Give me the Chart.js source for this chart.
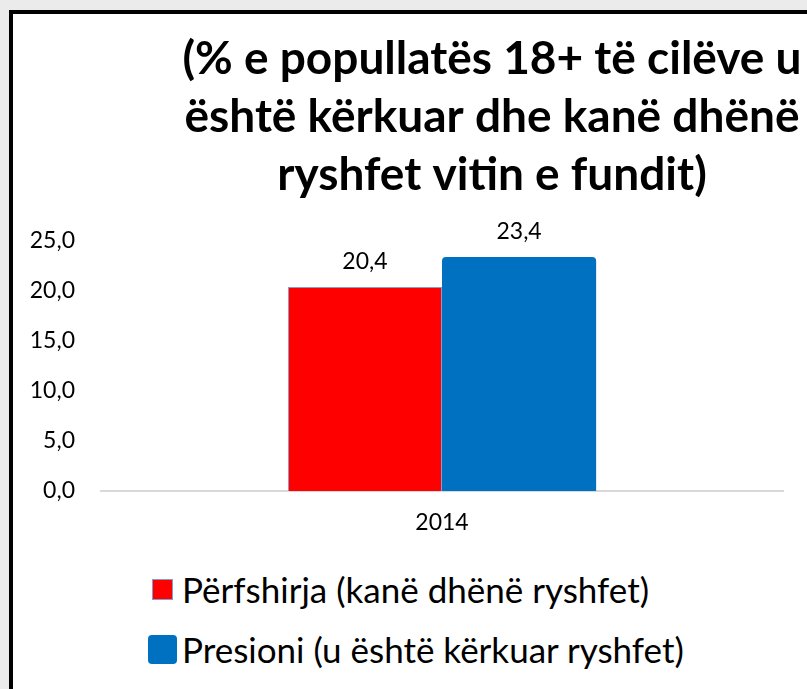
<!DOCTYPE html>
<html>
<head>
<meta charset="utf-8">
<script src="https://cdn.jsdelivr.net/npm/chart.js@4.4.0/dist/chart.umd.min.js"></script>
<style>
html, body { margin: 0; padding: 0; width: 807px; height: 689px; overflow: hidden; background: #ebebeb; }
#frame { position: absolute; left: 9px; top: 10px; width: 798px; height: 679px; background: #fff; overflow: hidden;
         border-left: 4px solid #000; border-top: 4px solid #000; }
#wrap { position: absolute; left: 0; top: 0; width: 958px; height: 540px; }
#legend { position: absolute; left: 134px; top: 545px; font-family: Lato, sans-serif; font-size: 35px; color: #000; white-space: nowrap; }
.item { display: flex; align-items: center; height: 60px; }
.key { width: 30px; display: flex; justify-content: center; margin-right: 5px; }
.key span { display: block; box-sizing: border-box; }
</style>
</head>
<body>
<div id="frame">
  <div id="wrap"><canvas id="chart"></canvas></div>
  <div id="legend"></div>
</div>
<script>
const titleLines = ['(% e popullatës 18+ të cilëve u', 'është kërkuar dhe kanë dhënë', 'ryshfet vitin e fundit)'];
const years = ['2014'];
const perfshirja = [20.4];
const presioni = [23.4];
const seriesNames = ['Përfshirja (kanë dhënë ryshfet)', 'Presioni (u është kërkuar ryshfet)'];
const yTicks = [0, 5, 10, 15, 20, 25];

function fmt(v) {
  return v.toFixed(1).replace('.', ',');
}

// value labels above each bar
const barLabels = {
  id: 'barLabels',
  afterDatasetsDraw(chart) {
    const ctx = chart.ctx;
    ctx.save();
    ctx.font = '23px Lato';
    ctx.fillStyle = '#000';
    ctx.textAlign = 'center';
    ctx.textBaseline = 'alphabetic';
    chart.data.datasets.forEach((ds, i) => {
      chart.getDatasetMeta(i).data.forEach((bar, j) => {
        ctx.fillText(fmt(ds.data[j]), bar.x, bar.y - 18);
      });
    });
    ctx.restore();
  }
};

const datasets = [
  { label: seriesNames[0], data: perfshirja, backgroundColor: '#ff0000', borderColor: '#7f9fd4', borderWidth: 1,
    keySize: 21, keyRadius: 0 },
  { label: seriesNames[1], data: presioni, backgroundColor: '#0070c0', borderColor: '#0070c0', borderWidth: 0,
    borderRadius: { topLeft: 4, topRight: 4 }, borderSkipped: 'bottom', keySize: 29, keyRadius: 4 }
];

const chart = new Chart(document.getElementById('chart'), {
  type: 'bar',
  data: { labels: years, datasets: datasets },
  options: {
    responsive: true,
    maintainAspectRatio: false,
    animation: false,
    layout: { padding: { left: 0, right: 0, top: 0, bottom: 13 } },
    datasets: { bar: { categoryPercentage: 0.452, barPercentage: 1 } },
    plugins: {
      legend: { display: false },
      tooltip: { enabled: false },
      title: {
        display: true,
        text: titleLines,
        color: '#000',
        font: { family: 'Lato', size: 46, weight: 'bold', lineHeight: '58px' },
        padding: { top: 16, bottom: 37 }
      }
    },
    scales: {
      x: {
        grid: { display: false, drawTicks: false },
        border: { display: true, color: '#d9d9d9', width: 2 },
        ticks: { color: '#000', font: { family: 'Lato', size: 23 }, padding: 18 },
        afterFit: s => { s.height = 50; }
      },
      y: {
        min: 0, max: 25,
        grid: { display: false, drawTicks: false },
        border: { display: false },
        afterBuildTicks: s => { s.ticks = yTicks.map(v => ({ value: v })); },
        ticks: { color: '#000', font: { family: 'Lato', size: 23 }, padding: 26, callback: v => fmt(v) },
        afterFit: s => { s.width = 88; }
      },
      // empty space at the right so the title stays centred on the whole box
      spacer: {
        position: 'right',
        grid: { display: false, drawTicks: false },
        border: { display: false },
        ticks: { display: false },
        afterFit: s => { s.width = 188; }
      }
    }
  },
  plugins: [barLabels]
});

// legend drawn as html, one entry per line
const legend = document.getElementById('legend');
datasets.forEach(ds => {
  const item = document.createElement('div');
  item.className = 'item';
  const key = document.createElement('div');
  key.className = 'key';
  const sw = document.createElement('span');
  sw.style.width = ds.keySize + 'px';
  sw.style.height = ds.keySize + 'px';
  sw.style.background = ds.backgroundColor;
  sw.style.border = ds.borderWidth ? ds.borderWidth + 'px solid ' + ds.borderColor : 'none';
  sw.style.borderRadius = ds.keyRadius + 'px';
  key.appendChild(sw);
  const txt = document.createElement('span');
  txt.textContent = ds.label;
  item.appendChild(key);
  item.appendChild(txt);
  legend.appendChild(item);
});
</script>
</body>
</html>
